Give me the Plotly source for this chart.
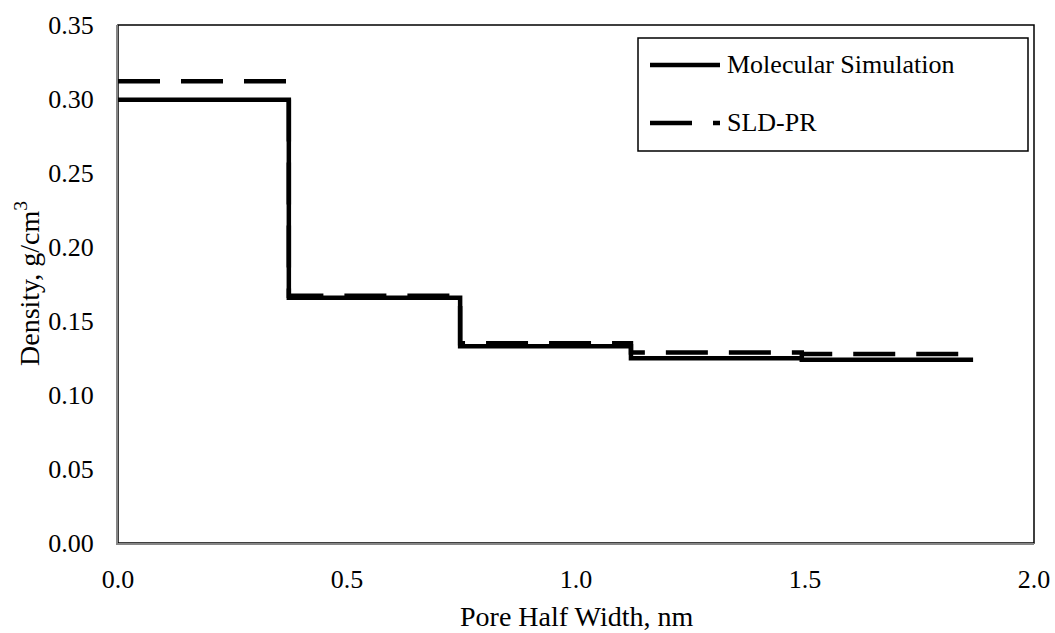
import plotly.graph_objects as go

# Layer boundaries (pore half width, nm)
pore_half_width = [0.0, 0.373, 0.747, 1.120, 1.493, 1.867]
# Layer densities (g/cm3), one per layer
molecular_simulation = [0.2995, 0.1657, 0.1330, 0.1248, 0.1238]
sld_pr = [0.3120, 0.1670, 0.1350, 0.1288, 0.1277]

series_names = ["Molecular Simulation", "SLD-PR"]
x_title = "Pore Half Width, nm"
y_title = "Density, g/cm<sup>3</sup>"
x_ticks = [0.0, 0.5, 1.0, 1.5, 2.0]
y_ticks = [0.00, 0.05, 0.10, 0.15, 0.20, 0.25, 0.30, 0.35]

FONT = "'Liberation Serif', 'Times New Roman', 'DejaVu Serif', serif"
DASH = "42px,21px"

fig = go.Figure()
fig.add_trace(go.Scatter(
    x=pore_half_width, y=sld_pr + [sld_pr[-1]],
    mode="lines", line=dict(shape="hv", color="black", width=4.5, dash=DASH),
    name=series_names[1], showlegend=False))
fig.add_trace(go.Scatter(
    x=pore_half_width, y=molecular_simulation + [molecular_simulation[-1]],
    mode="lines", line=dict(shape="hv", color="black", width=4.5),
    name=series_names[0], showlegend=False))

# plot-area border (top/right black)
fig.add_shape(type="rect", xref="x domain", yref="y domain", x0=0, x1=1, y0=0, y1=1,
              line=dict(color="black", width=1.5), layer="below")

W, H = 1055, 633
L, R, T, B = 118, 21, 25, 90
pw, ph = W - L - R, H - T - B

def px(xp):
    return (xp - L) / pw

def py(yp):
    return (H - B - yp) / ph

# legend box drawn manually (Excel style, long sample lines)
fig.add_shape(type="rect", xref="paper", yref="paper",
              x0=px(638), x1=px(1028), y0=py(151), y1=py(38),
              line=dict(color="black", width=1.5), fillcolor="white")
entries = [(65, None, series_names[0]), (123, DASH, series_names[1])]
for yc, dash, label in entries:
    fig.add_shape(type="line", xref="paper", yref="paper",
                  x0=px(650), x1=px(720), y0=py(yc), y1=py(yc),
                  line=dict(color="black", width=4.5, dash=dash or "solid"))
    fig.add_annotation(xref="paper", yref="paper", x=px(725), y=py(yc),
                       text=label, showarrow=False, xanchor="left", yanchor="middle",
                       font=dict(family=FONT, size=26, color="black"))

# axis titles
fig.add_annotation(xref="paper", yref="paper", x=px(576), y=py(616), text=x_title,
                   showarrow=False, xanchor="center", yanchor="middle",
                   font=dict(family=FONT, size=28, color="black"))
fig.add_annotation(xref="paper", yref="paper", x=px(27), y=py(284), text=y_title,
                   showarrow=False, xanchor="center", yanchor="middle", textangle=-90,
                   font=dict(family=FONT, size=28, color="black"))

fig.update_layout(
    width=W, height=H,
    margin=dict(l=L, r=R, t=T, b=B, autoexpand=False),
    paper_bgcolor="white", plot_bgcolor="white",
    font=dict(family=FONT, size=26, color="black"),
    showlegend=False,
)
fig.update_xaxes(
    range=[0, 2], tickvals=x_ticks, ticktext=[f"{v:.1f}" for v in x_ticks],
    showgrid=False, zeroline=False, showline=True, linecolor="#868686", linewidth=2,
    ticks="", ticklabelstandoff=12, tickfont=dict(family=FONT, size=26), automargin=False,
)
fig.update_yaxes(
    range=[0, 0.35], tickvals=y_ticks, ticktext=[f"{v:.2f}" for v in y_ticks],
    showgrid=False, zeroline=False, showline=True, linecolor="#868686", linewidth=2,
    ticks="", ticklabelstandoff=17, tickfont=dict(family=FONT, size=26), automargin=False,
)

fig.write_html("out.html")
